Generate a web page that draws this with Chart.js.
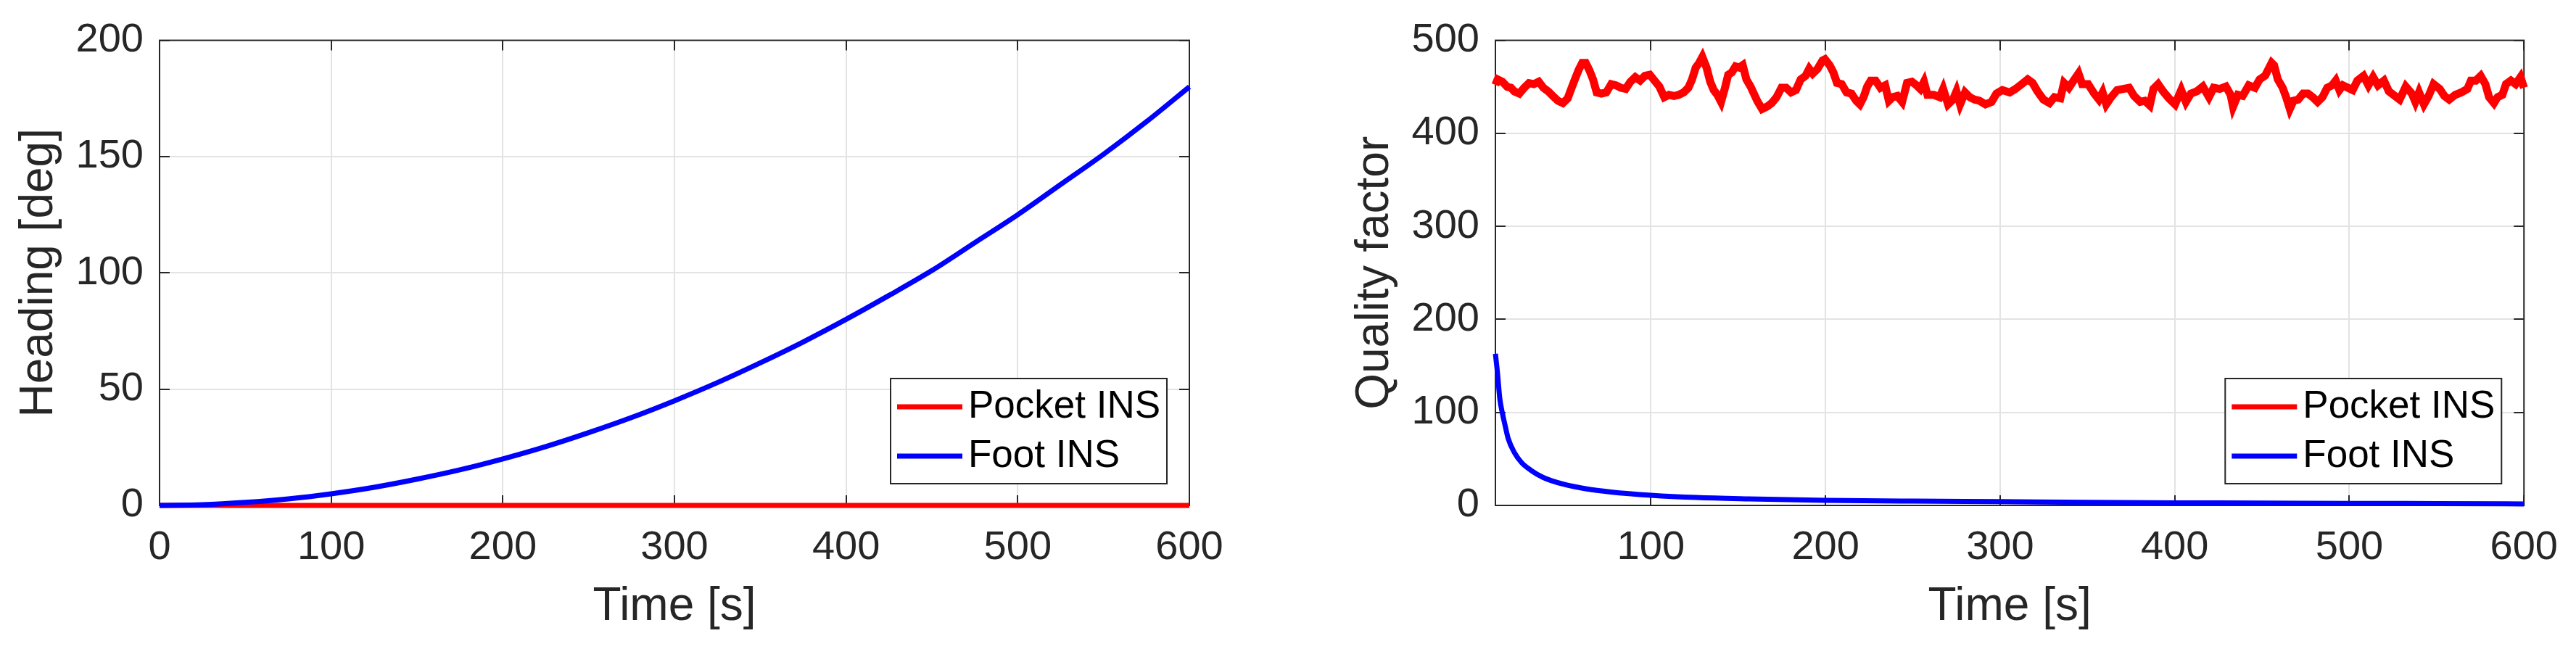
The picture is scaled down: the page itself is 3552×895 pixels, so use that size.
<!DOCTYPE html>
<html>
<head>
<meta charset="utf-8">
<script src="https://cdn.jsdelivr.net/npm/chart.js@4"></script>
<style>
  html, body { margin: 0; padding: 0; background: #fff; }
  body { width: 3552px; height: 895px; position: relative; overflow: hidden; }
  #heading { position: absolute; left: 0; top: 0; }
  #quality { position: absolute; left: 1842px; top: 0; }
</style>
</head>
<body>
<canvas id="heading" width="1776" height="895"></canvas>
<canvas id="quality" width="1710" height="895"></canvas>
<script>
var seriesLabels = ["Pocket INS", "Foot INS"];

// left plot: heading
var headingTime = [0, 25, 50, 75, 100, 125, 150, 175, 200, 225, 250, 275, 300,
  325, 350, 375, 400, 425, 450, 475, 500, 525, 550, 575, 600];
var headingPocket = [0, 0, 0, 0, 0, 0, 0, 0, 0, 0, 0, 0, 0,
  0, 0, 0, 0, 0, 0, 0, 0, 0, 0, 0, 0];
var headingFoot = [0, 0.3, 1.3, 2.8, 5, 7.8, 11.3, 15.3, 20, 25.3, 31.3, 37.8, 45,
  52.8, 61.3, 70.3, 80, 90.3, 101, 113, 125, 138, 151, 165, 180];
var headingXTicks = [0, 100, 200, 300, 400, 500, 600];
var headingYTicks = [0, 50, 100, 150, 200];

// right plot: quality factor
var qualityPocketTime = [11, 12.3, 15, 17.8, 19.9, 21.9, 24.7, 27.5, 30.2, 33, 35.8, 38.5, 41.3, 44, 46.8, 49.6,
  52.4, 54.4, 56.5, 58.6, 60.7, 62.7, 64.8, 66.9, 69, 71.7, 74.5, 77.3, 80, 82.8, 85.6, 88.3, 91.1, 93.9,
  96.6, 99.4, 102.1, 104.9, 107.7, 110.4, 113.2, 116, 118.8, 121.5, 123.6, 125.7, 127.7, 129.5, 131.9,
  134, 136, 138.1, 140.2, 142.3, 144.3, 146.4, 148.5, 150.6, 152.6, 154.7, 157.2,
  160.9, 163.7, 166.5, 169.2, 172, 174.8, 177.5, 180.3, 183.1, 185.8, 188.6, 190.7, 192.7, 195.5, 198.3,
  199.7, 202.4, 204.5, 206.6, 209.3, 212.1, 214.9, 217.6, 219.7, 221.8, 223.9, 225.9, 228.7, 231.5,
  234.2, 236.3, 238.4, 241.2, 243.9, 246.7, 249.5, 252.2, 254.3, 256.4, 258.4, 261.9, 265.4, 267.4,
  270.2, 273, 275, 277.1, 279.9, 282.6, 285.4, 288.2, 291.6, 295.1, 297.9, 301.3, 305.5, 308.9, 312.4,
  315.8, 318.6, 321.4, 324.8, 328.3, 331.1, 334.5, 336.6, 339.4, 342.1, 344.9, 347, 350.4, 353.9,
  356.6, 358.7, 360.8, 363.6, 367, 370.5, 373.9, 376.7, 380.2, 382.9, 385.7, 387.8, 390.5, 393.3,
  396.7, 400.2, 403.7, 406.4, 409.2, 412.7, 416.1, 419.6, 422.3, 425.8, 429.3, 432, 433.4, 436.2,
  438.9, 442.4, 445.9, 448.6, 451.8, 455.5, 456.9, 459, 461.8, 463.8, 465.9, 468, 470.7, 473.5, 476.3,
  479, 481.8, 484.6, 487.3, 490.1, 492.2, 494.3, 496.3, 499.1, 501.9, 504.6, 508.1, 510.9, 513.6,
  516.4, 519.8, 522.6, 526.1, 528.8, 532.3, 535.8, 537.8, 539.9, 542.7, 545.4, 548.2, 551.7, 554.4,
  557.2, 560.6, 564.1, 567.6, 569.6, 572.4, 575.2, 577.9, 580, 582.8, 584.9, 587.6, 589.7, 592.5,
  595.2, 598, 600];
var qualityPocket = [452, 458, 455.5, 450, 449, 445, 442.7, 449, 454, 453, 455.5, 449, 445, 440, 435, 432.5,
  437.6, 447.8, 458, 468, 475.8, 475.8, 468, 458, 444, 442.7, 444, 452.9, 451.6, 449, 447.8, 455.5, 460.5, 456.7,
  461.8, 463, 456.7, 450.3, 438.9, 441.4, 440.2, 441.4, 444, 449, 458, 470.7, 475.8, 482.1, 470.7,
  455.5, 446.5, 441.4, 433.8, 447.8, 463, 465.6, 472, 470.7, 473.3, 458, 450,
  435, 426.2, 428.7, 432.5, 438.9, 449, 449, 444, 446.5, 458, 461.8, 469.4, 464.3, 469.4, 478.3,
  479.6, 473.2, 465.6, 454.2, 452.9, 444, 442.7, 435, 431.2, 438.9, 450.3, 456.7, 456.7, 449,
  451.6, 435, 438.9, 440.2, 433.8, 454.2, 455.5, 451.6, 447.8, 455.5, 441.4, 441.4, 438.9, 447.8,
  431.2, 436.3, 445.2, 431.2, 444, 438.9, 436.3, 435, 431.2, 433.8, 442.7, 446.5, 444, 447.8, 452.9,
  458, 454.2, 445.2, 436.3, 432.5, 438.9, 437.6, 454.2, 449, 456.7, 464.3, 452.9, 452.9, 442.7,
  436.3, 444, 431.2, 438.9, 446.5, 447.8, 449, 440.2, 433.8, 435, 430, 447.8, 452.9, 445.2,
  437.6, 431.2, 446.5, 433.8, 442.7, 445.2, 450.3, 438.9, 449, 447.8, 450.3, 441.4, 428.7, 441.4,
  440.2, 451.6, 449, 458, 462, 475.8, 473.2, 458, 449, 438.9, 426.2, 435, 436.3, 442.7, 442.7,
  438.9, 433.8, 438.9, 449, 451.6, 456.7, 446.5, 451.6, 449, 446.5, 456.7, 461.8, 451.6, 460.5,
  451.6, 456.7, 445.2, 440.2, 436.3, 450.3, 442.7, 433.8, 444, 431.2, 440.2, 452.9, 447.8, 440.2,
  436.3, 441.4, 444, 447.8, 456.7, 456.7, 461.8, 452.9, 438.9, 432.5, 438.9, 441.4, 452.9, 456.7,
  452.9, 460.5, 449];
var qualityFootTime = [11, 12.1, 13.5, 14.9, 16.3, 18.3, 21.8, 26, 31.5, 38.4, 49.5, 63.3, 77, 100,
  126, 156, 200, 250, 300, 350, 400, 450, 500, 550, 600];
var qualityFoot = [163, 144, 115, 100, 88, 72, 57, 46, 37.6, 30, 23, 17.7, 14.5, 11,
  8.5, 7, 5.5, 4.6, 4, 3.3, 2.8, 2.5, 2.2, 2, 1.6];
var qualityXTicks = [100, 200, 300, 400, 500, 600];
var qualityYTicks = [0, 100, 200, 300, 400, 500];

var FONT = "'Liberation Sans', Arial, sans-serif";
var AXIS_COLOR = "#262626";
Chart.defaults.font.family = FONT;
Chart.defaults.color = AXIS_COLOR;

function points(xs, ys) {
  return xs.map(function (x, i) { return { x: x, y: ys[i] }; });
}

// box round the plot area with inward ticks on all four sides
var boxPlugin = {
  id: "boxAxes",
  beforeDatasetsDraw: function (chart) {
    var ctx = chart.ctx, a = chart.chartArea;
    var xs = chart.scales.x, ys = chart.scales.y;
    ctx.save();
    ctx.strokeStyle = AXIS_COLOR;
    ctx.lineWidth = 2;
    ctx.strokeRect(a.left, a.top, a.right - a.left, a.bottom - a.top);
    ctx.beginPath();
    xs.ticks.forEach(function (t) {
      var px = Math.round(xs.getPixelForValue(t.value));
      ctx.moveTo(px, a.bottom); ctx.lineTo(px, a.bottom - 14);
      ctx.moveTo(px, a.top); ctx.lineTo(px, a.top + 14);
    });
    ys.ticks.forEach(function (t) {
      var py = Math.round(ys.getPixelForValue(t.value));
      ctx.moveTo(a.left, py); ctx.lineTo(a.left + 14, py);
      ctx.moveTo(a.right, py); ctx.lineTo(a.right - 14, py);
    });
    ctx.stroke();
    ctx.restore();
  }
};

// legend box in the lower right corner of the plot
var legendPlugin = {
  id: "boxLegend",
  afterDraw: function (chart) {
    var ctx = chart.ctx, a = chart.chartArea;
    var w = 381, h = 145;
    var x0 = a.right - 31 - w, y0 = a.bottom - 30 - h;
    ctx.save();
    ctx.fillStyle = "#fff";
    ctx.fillRect(x0, y0, w, h);
    ctx.strokeStyle = AXIS_COLOR;
    ctx.lineWidth = 2;
    ctx.strokeRect(x0, y0, w, h);
    chart.data.datasets.forEach(function (ds, i) {
      var cy = y0 + 39 + i * 68;
      ctx.strokeStyle = ds.borderColor;
      ctx.lineWidth = 7;
      ctx.beginPath();
      ctx.moveTo(x0 + 9, cy);
      ctx.lineTo(x0 + 99, cy);
      ctx.stroke();
      ctx.fillStyle = "#000";
      ctx.font = "53px " + FONT;
      ctx.textBaseline = "middle";
      ctx.textAlign = "left";
      ctx.fillText(ds.label, x0 + 107, cy);
    });
    ctx.restore();
  }
};

function makeChart(id, cfg) {
  return new Chart(document.getElementById(id), {
    type: "line",
    data: { datasets: cfg.datasets },
    options: {
      responsive: false,
      animation: false,
      devicePixelRatio: 1,
      layout: { padding: { top: 41, right: cfg.rightPad, left: 0, bottom: 0 } },
      elements: { point: { radius: 0 } },
      plugins: { legend: { display: false }, tooltip: { enabled: false } },
      scales: {
        x: {
          type: "linear",
          min: cfg.xMin,
          max: 600,
          afterBuildTicks: function (scale) {
            scale.ticks = cfg.xTicks.map(function (v) { return { value: v }; });
          },
          afterFit: function (scale) { scale.height = 198; },
          grid: { color: "#e3e3e3", lineWidth: 2, drawTicks: false },
          border: { display: false },
          ticks: { padding: 25, color: AXIS_COLOR, font: { size: 56 }, maxRotation: 0 },
          title: {
            display: true, text: "Time [s]", color: AXIS_COLOR,
            font: { size: 64 }, padding: { top: 0, bottom: 19 }
          }
        },
        y: {
          type: "linear",
          min: 0,
          max: cfg.yMax,
          afterBuildTicks: function (scale) {
            scale.ticks = cfg.yTicks.map(function (v) { return { value: v }; });
          },
          afterFit: function (scale) { scale.width = 220; },
          grid: { color: "#e3e3e3", lineWidth: 2, drawTicks: false },
          border: { display: false },
          ticks: { padding: 22, color: AXIS_COLOR, font: { size: 56 } },
          title: {
            display: true, text: cfg.yTitle, color: AXIS_COLOR,
            font: { size: 64 }, padding: { top: 16, bottom: 0 }
          }
        }
      }
    },
    plugins: [boxPlugin, legendPlugin]
  });
}

// lower "order" is drawn on top, so the foot INS line covers the pocket line
makeChart("heading", {
  rightPad: 136,
  xMin: 0,
  yMax: 200,
  xTicks: headingXTicks,
  yTicks: headingYTicks,
  yTitle: "Heading [deg]",
  datasets: [
    { label: seriesLabels[0], data: points(headingTime, headingPocket), borderColor: "#ff0000",
      borderWidth: 7, tension: 0, order: 2, clip: false },
    { label: seriesLabels[1], data: points(headingTime, headingFoot), borderColor: "#0000ff",
      borderWidth: 7, cubicInterpolationMode: "monotone", order: 1, clip: false }
  ]
});

makeChart("quality", {
  rightPad: 71,
  xMin: 11,
  yMax: 500,
  xTicks: qualityXTicks,
  yTicks: qualityYTicks,
  yTitle: "Quality factor",
  datasets: [
    { label: seriesLabels[0], data: points(qualityPocketTime, qualityPocket), borderColor: "#ff0000",
      borderWidth: 11, tension: 0, order: 2, clip: false },
    { label: seriesLabels[1], data: points(qualityFootTime, qualityFoot), borderColor: "#0000ff",
      borderWidth: 7, cubicInterpolationMode: "monotone", order: 1, clip: false }
  ]
});
</script>
</body>
</html>
